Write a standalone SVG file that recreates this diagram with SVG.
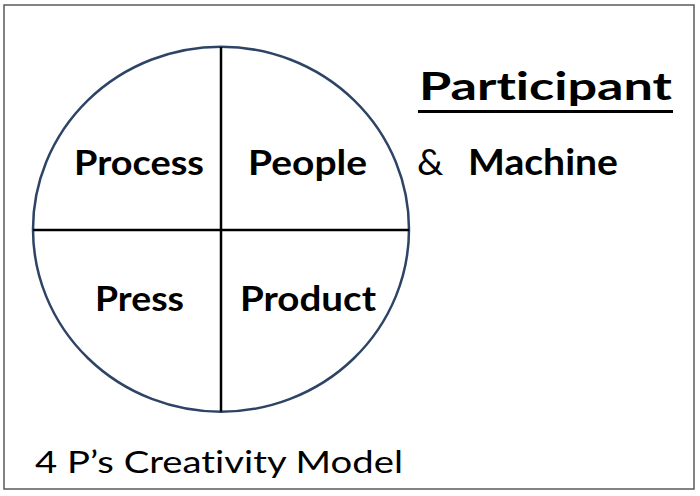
<svg xmlns="http://www.w3.org/2000/svg" width="700" height="496" viewBox="0 0 700 496">
<style>
text{font-variant-ligatures:none;font-feature-settings:"liga" 0,"clig" 0,"dlig" 0}
.b{font-family:Lato,"Open Sans","Liberation Sans",sans-serif;font-weight:bold;font-size:34px;fill:#000}
.r{font-family:Lato,"Open Sans","Liberation Sans",sans-serif;font-size:31px;fill:#000}
.ln{stroke:#000;stroke-width:2.5}
</style>
<rect width="700" height="496" fill="#fff"/>
<rect x="4" y="5" width="690" height="484" fill="none" stroke="#5a5a5a" stroke-width="1.5"/>
<g id="circle">
<ellipse cx="221" cy="229.2" rx="188" ry="182.5" fill="#fff" stroke="#2e4466" stroke-width="2.5"/>
</g>
<g id="connectors">
<line class="ln" x1="221" y1="47" x2="221" y2="411.5"/>
<line class="ln" x1="33" y1="230" x2="409" y2="230"/>
</g>
<g id="process"><text class="b" x="74" y="175" textLength="130" lengthAdjust="spacingAndGlyphs">Process</text></g>
<g id="people"><text class="b" x="248" y="175" textLength="119" lengthAdjust="spacingAndGlyphs">People</text></g>
<g id="press"><text class="b" x="95" y="311" textLength="89" lengthAdjust="spacingAndGlyphs">Press</text></g>
<g id="product"><text class="b" x="240" y="311" textLength="136" lengthAdjust="spacingAndGlyphs">Product</text></g>
<g id="participant">
<text class="b" x="419" y="100" style="font-size:39px" textLength="253" lengthAdjust="spacingAndGlyphs">Participant</text>
<rect x="418" y="110" width="255" height="3" fill="#000"/>
</g>
<g id="machine">
<text class="r" x="417" y="175" style="font-size:37px">&amp;</text>
<text class="b" x="468" y="175" style="font-size:36px" textLength="150" lengthAdjust="spacingAndGlyphs">Machine</text>
</g>
<g id="title"><text class="r" x="35" y="473" textLength="368" lengthAdjust="spacingAndGlyphs">4 P’s Creativity Model</text></g>
</svg>
